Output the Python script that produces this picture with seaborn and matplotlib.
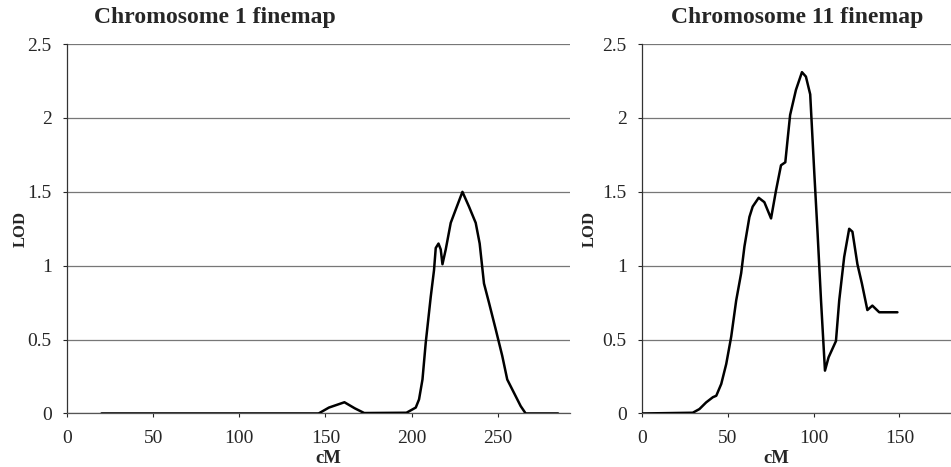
import pandas as pd
import seaborn as sns
import matplotlib.pyplot as plt

# Chromosome 1 finemap (cM, LOD)
chr1_cm = [20, 100, 146, 152, 161, 167, 172.5, 197, 202.4, 204.3, 206.3, 208.2, 211.1, 213, 214,
           215.6, 216.9, 217.9, 219.8, 222.7, 225.6, 229.5, 233.3, 237.2, 239.5, 242, 244.9,
           248.8, 252.6, 255.5, 259.4, 263.3, 266.2, 285]
chr1_lod = [0, 0, 0, 0.04, 0.076, 0.035, 0.003, 0.005, 0.04, 0.095, 0.23, 0.48, 0.79, 0.97, 1.12,
            1.15, 1.11, 1.01, 1.11, 1.29, 1.38, 1.50, 1.40, 1.29, 1.15, 0.88, 0.75,
            0.57, 0.39, 0.23, 0.14, 0.05, 0, 0]

# Chromosome 11 finemap
chr11_cm = [0, 29.6, 33.5, 37.4, 41.3, 43.3, 46.2, 49.1, 52, 54.9, 57.8, 59.7, 62.6, 64.5, 68,
            71.3, 75.2, 78.1, 81, 83.5, 84.8, 86.3, 89.7, 93.2, 95.5, 98, 100.4, 102.3, 104.3,
            106.6, 108.7, 113, 114.9, 117.8, 120.7, 122.6, 125.5, 128.1, 131.3, 134.2, 138.2, 148.8]
chr11_lod = [0, 0.005, 0.03, 0.075, 0.11, 0.12, 0.20, 0.335, 0.52, 0.765, 0.95, 1.13, 1.33, 1.40, 1.46,
             1.43, 1.32, 1.51, 1.68, 1.70, 1.85, 2.02, 2.19, 2.31, 2.28, 2.16, 1.625, 1.22, 0.765,
             0.29, 0.38, 0.49, 0.765, 1.06, 1.25, 1.23, 1.01, 0.88, 0.70, 0.73, 0.685, 0.685]

chr1 = pd.DataFrame({"cM": chr1_cm, "LOD": chr1_lod})
chr11 = pd.DataFrame({"cM": chr11_cm, "LOD": chr11_lod})

sns.set_style("white")
plt.rcParams['font.family'] = ['Liberation Serif', 'DejaVu Serif']

fig = plt.figure(figsize=(9.51, 4.67), dpi=100)
ax1 = fig.add_axes([0.0705, 0.1146, 0.529, 0.791])
ax2 = fig.add_axes([0.675, 0.1146, 0.325, 0.791])

panels = [(ax1, chr1, 292, [0, 50, 100, 150, 200, 250], "Chromosome 1 finemap", 0.226, 0.519),
          (ax2, chr11, 180, [0, 50, 100, 150], "Chromosome 11 finemap", 0.838, 0.434)]

for ax, df, xmax, xticks, title, title_x, xlab_x in panels:
    sns.lineplot(data=df, x="cM", y="LOD", ax=ax, color="black", linewidth=1.8, zorder=3)
    ax.set_xlim(0, xmax)
    ax.set_ylim(0, 2.5)
    ax.set_xticks(xticks)
    ax.set_yticks([0, 0.5, 1, 1.5, 2, 2.5])
    ax.set_yticklabels(["0", "0.5", "1", "1.5", "2", "2.5"])
    ax.yaxis.grid(True, color="#777777", linewidth=0.9)
    ax.set_axisbelow(True)
    for s in ["top", "right"]:
        ax.spines[s].set_visible(False)
    ax.spines["left"].set_color("#333333")
    ax.spines["bottom"].set_color("#555555")
    ax.spines["left"].set_linewidth(0.9)
    ax.spines["bottom"].set_linewidth(0.9)
    ax.tick_params(axis="both", labelsize=14, length=3, width=0.8, direction="out",
                   bottom=True, left=True)
    ax.tick_params(axis="x", pad=9)
    ax.tick_params(axis="y", pad=8)
    ax.set_xlabel("cM", fontsize=13.5, fontweight="bold")
    ax.set_ylabel("LOD", fontsize=12, fontweight="bold")
    ax.xaxis.set_label_coords(xlab_x, -0.098)
    fig.text(title_x, 0.962, title, ha="center", va="center", fontsize=17, fontweight="bold")

ax1.yaxis.set_label_coords(-0.077, 0.5)
ax2.yaxis.set_label_coords(-0.142, 0.5)

fig.savefig("out.png", dpi=100)
